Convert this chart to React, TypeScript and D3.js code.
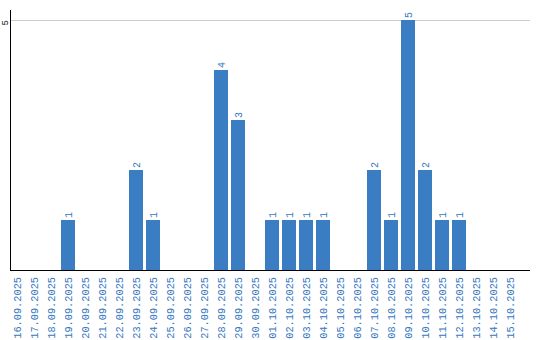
import React from "react";
import * as d3 from "d3";

const categories = [
  "16.09.2025","17.09.2025","18.09.2025","19.09.2025","20.09.2025","21.09.2025",
  "22.09.2025","23.09.2025","24.09.2025","25.09.2025","26.09.2025","27.09.2025",
  "28.09.2025","29.09.2025","30.09.2025","01.10.2025","02.10.2025","03.10.2025",
  "04.10.2025","05.10.2025","06.10.2025","07.10.2025","08.10.2025","09.10.2025",
  "10.10.2025","11.10.2025","12.10.2025","13.10.2025","14.10.2025","15.10.2025",
];
const values = [0,0,0,1,0,0,0,2,1,0,0,0,4,3,0,1,1,1,1,0,0,2,1,5,2,1,1,0,0,0];
const yTicks = [5];

const W = 540, H = 340;
const BLUE = "#3b7dc3";
const TEXT_BLUE = "#3577bf";
const FONT = "'Liberation Mono', monospace";

export default function App() {
  const x = d3.scaleBand<string>().domain(categories).range([8.5, 518.5]).paddingInner(3 / 17).paddingOuter(1.5 / 17);
  const y = d3.scaleLinear().domain([0, 5]).range([270, 20]);
  return (
    <svg width={W} height={H} style={{ position: "absolute", left: 0, top: 0 }}>
      {yTicks.map((t) => (
        <g key={t}>
          <line x1={11} x2={530} y1={y(t) + 0.5} y2={y(t) + 0.5} stroke="#cccccc" />
          <text transform={`translate(7.5,${y(t)}) rotate(-90)`} textAnchor="end" fontFamily={FONT} fontSize={9} fill="#111">{t}</text>
        </g>
      ))}
      {categories.map((c, i) => {
        const v = values[i];
        const bx = x(c)!;
        const cx = bx + x.bandwidth() / 2;
        return (
          <g key={c}>
            {v > 0 && (
              <>
                <rect x={bx} y={y(v)} width={x.bandwidth()} height={y(0) - y(v)} fill={BLUE} />
                <text transform={`translate(${cx + 3.5},${y(v) - 2}) rotate(-90)`} fontFamily={FONT} fontSize={10} fill={TEXT_BLUE}>{v}</text>
              </>
            )}
            <text transform={`translate(${cx + 3.5},${277}) rotate(-90)`} textAnchor="end" fontFamily={FONT} fontSize={10.3} fill={TEXT_BLUE}>{c}</text>
          </g>
        );
      })}
      <line x1={10.5} x2={10.5} y1={10} y2={270.5} stroke="#000" />
      <line x1={10} x2={530} y1={270.5} y2={270.5} stroke="#000" />
    </svg>
  );
}
